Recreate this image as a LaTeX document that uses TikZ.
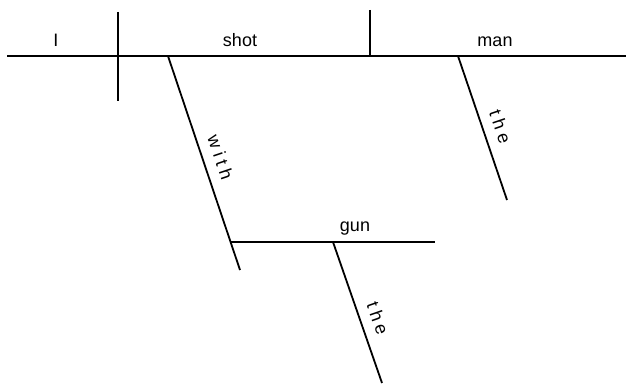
\documentclass[tikz,border=0pt]{standalone}
\usepackage{fontspec}
\setmainfont{Liberation Sans}
\begin{document}
\begin{tikzpicture}[
    x=1pt, y=-1pt,
    ln/.style={line width=1.8pt},
    word/.style={font=\fontsize{18}{20}\selectfont, anchor=base, inner sep=0pt},
    mod/.style={font=\fontsize{18}{20}\selectfont\addfontfeature{LetterSpace=25},
                sloped, above=10pt, inner sep=0pt}]
  \useasboundingbox (0,0) rectangle (626,385);
  % base line and dividers
  \coordinate (m0) at (7,56);
  \coordinate (m1) at (626,56);
  \coordinate (s0) at (118,12);
  \coordinate (s1) at (118,101);
  \coordinate (o0) at (370,10);
  \coordinate (o1) at (370,56);
  % modifier lines
  \coordinate (w0) at (168,56);
  \coordinate (w1) at (240,270);
  \coordinate (g0) at (231,242);
  \coordinate (g1) at (435,242);
  \coordinate (t0) at (458,56);
  \coordinate (t1) at (507,200);
  \coordinate (u0) at (333,242);
  \coordinate (u1) at (382,383);
  \draw[ln] (m0) -- (m1);
  \draw[ln] (s0) -- (s1);
  \draw[ln] (o0) -- (o1);
  \draw[ln] (w0) -- node[mod, pos=0.5] (with) {with} (w1);
  \draw[ln] (g0) -- (g1);
  \draw[ln] (t0) -- node[mod, pos=0.53] (the1) {the} (t1);
  \draw[ln] (u0) -- node[mod, pos=0.58] (the2) {the} (u1);
  % words on the lines
  \node[word] (I)    at (56,47)   {I};
  \node[word] (shot) at (240,47)  {shot};
  \node[word] (man)  at (495,47)  {man};
  \node[word] (gun)  at (355,231) {gun};
\end{tikzpicture}
\end{document}
